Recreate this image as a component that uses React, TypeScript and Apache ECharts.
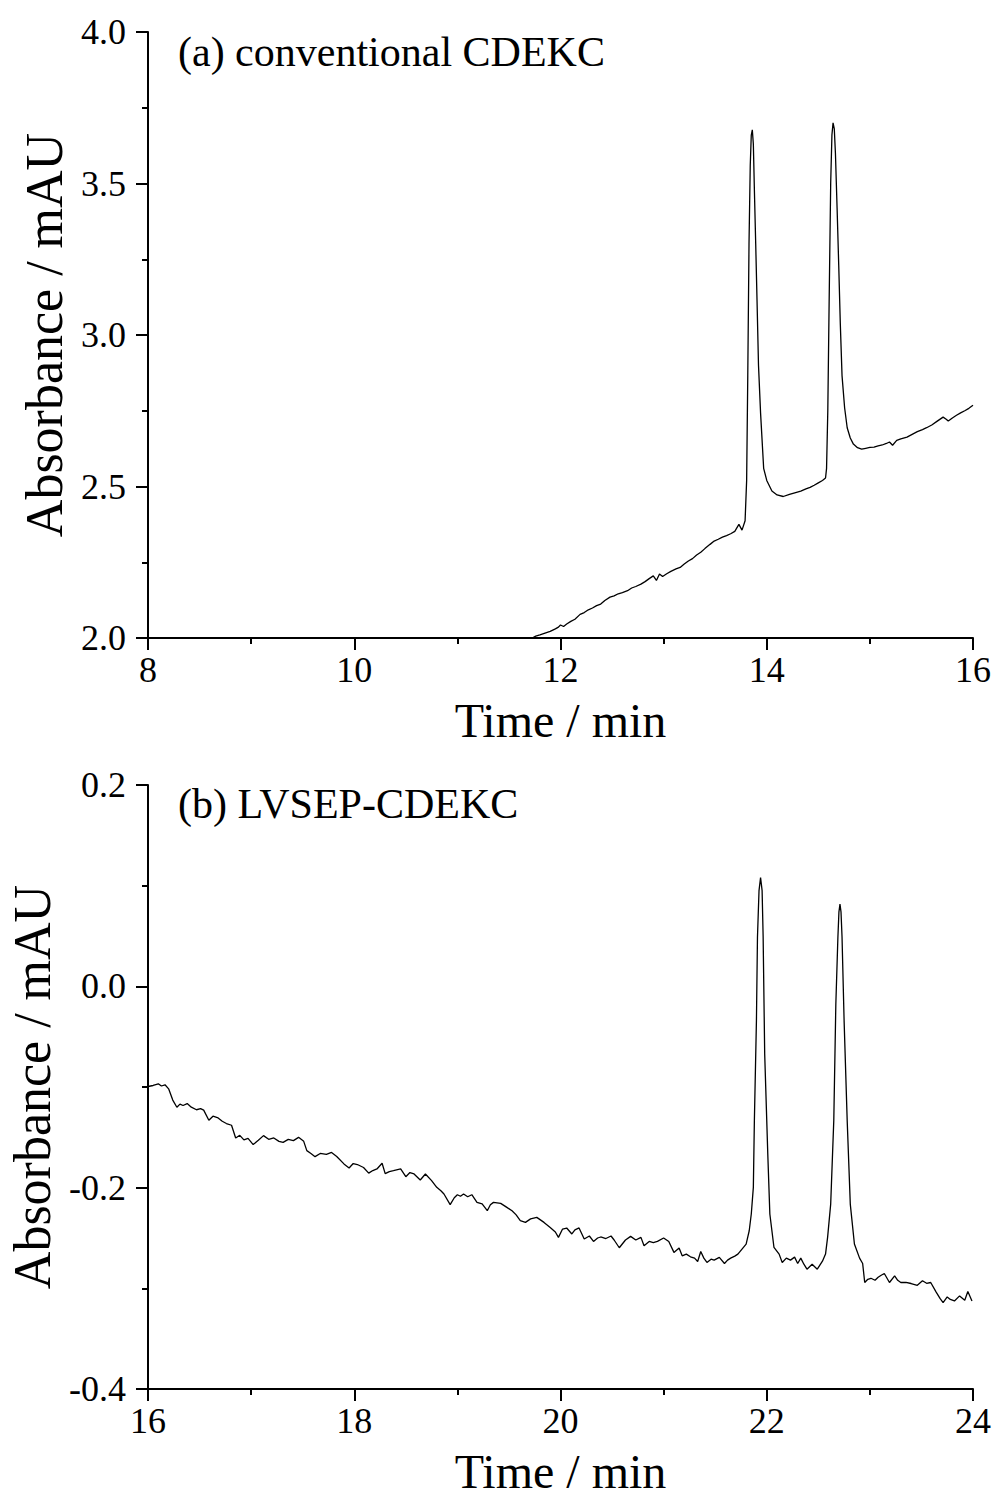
import React, { useEffect, useRef } from "react";
import * as echarts from "echarts";

// Panel (a): conventional CDEKC
const timeA: number[] = [
  11.70, 11.76, 11.80, 11.85, 11.90, 11.95, 11.98, 12.00, 12.03, 12.06,
  12.10, 12.14, 12.19, 12.23, 12.27, 12.31, 12.35, 12.39, 12.43, 12.48,
  12.52, 12.56, 12.60, 12.65, 12.69, 12.73, 12.78, 12.82, 12.86, 12.90,
  12.93, 12.96, 12.99, 13.03, 13.07, 13.12, 13.16, 13.20, 13.24, 13.28,
  13.32, 13.36, 13.40, 13.45, 13.49, 13.53, 13.57, 13.61, 13.65, 13.69,
  13.73, 13.76, 13.79, 13.805, 13.816, 13.828, 13.84, 13.85, 13.86, 13.87,
  13.88, 13.893, 13.906, 13.92, 13.94, 13.97, 14.00, 14.05, 14.10, 14.16,
  14.22, 14.28, 14.33, 14.38, 14.42, 14.46, 14.50, 14.54, 14.57, 14.58,
  14.592, 14.605, 14.62, 14.632, 14.643, 14.655, 14.666, 14.682, 14.698, 14.713,
  14.73, 14.755, 14.78, 14.81, 14.84, 14.88, 14.92, 14.96, 15.00, 15.04,
  15.08, 15.12, 15.16, 15.19, 15.22, 15.26, 15.30, 15.36, 15.41, 15.46,
  15.51, 15.55, 15.60, 15.65, 15.71, 15.74, 15.76, 15.80, 15.84, 15.88,
  15.92, 15.96, 16.00,
];
const absA: number[] = [
  1.995, 2.006, 2.010, 2.016, 2.022, 2.030, 2.036, 2.043, 2.038, 2.046,
  2.055, 2.062, 2.078, 2.084, 2.093, 2.099, 2.107, 2.112, 2.124, 2.135,
  2.139, 2.146, 2.150, 2.156, 2.165, 2.170, 2.178, 2.186, 2.196, 2.205,
  2.190, 2.211, 2.203, 2.212, 2.220, 2.228, 2.233, 2.244, 2.254, 2.262,
  2.274, 2.283, 2.295, 2.309, 2.320, 2.326, 2.333, 2.338, 2.344, 2.352,
  2.375, 2.356, 2.387, 2.520, 2.866, 3.300, 3.560, 3.660, 3.677, 3.630,
  3.480, 3.300, 3.110, 2.900, 2.743, 2.560, 2.520, 2.485, 2.472, 2.467,
  2.474, 2.480, 2.485, 2.492, 2.497, 2.504, 2.512, 2.520, 2.528, 2.560,
  2.750, 3.110, 3.500, 3.660, 3.700, 3.680, 3.600, 3.420, 3.230, 3.040,
  2.866, 2.760, 2.694, 2.660, 2.640, 2.628, 2.623, 2.626, 2.629, 2.630,
  2.634, 2.637, 2.642, 2.647, 2.636, 2.652, 2.657, 2.663, 2.672, 2.681,
  2.688, 2.694, 2.703, 2.715, 2.729, 2.722, 2.716, 2.726, 2.735, 2.743,
  2.750, 2.758, 2.768,
];

// Panel (b): LVSEP-CDEKC
const timeB: number[] = [
  16.00, 16.05, 16.10, 16.13, 16.165, 16.20, 16.24, 16.28, 16.31, 16.34,
  16.38, 16.42, 16.47, 16.51, 16.54, 16.59, 16.63, 16.68, 16.72, 16.76,
  16.81, 16.85, 16.89, 16.93, 16.97, 17.02, 17.07, 17.12, 17.17, 17.22,
  17.27, 17.31, 17.36, 17.41, 17.46, 17.51, 17.54, 17.58, 17.62, 17.67,
  17.73, 17.78, 17.83, 17.90, 17.95, 17.99, 18.03, 18.09, 18.14, 18.18,
  18.22, 18.27, 18.30, 18.34, 18.38, 18.45, 18.50, 18.54, 18.58, 18.64,
  18.69, 18.75, 18.80, 18.84, 18.87, 18.93, 18.97, 19.00, 19.03, 19.06,
  19.10, 19.14, 19.19, 19.24, 19.29, 19.32, 19.35, 19.42, 19.48, 19.53,
  19.57, 19.61, 19.66, 19.71, 19.77, 19.84, 19.90, 19.95, 19.98, 20.02,
  20.06, 20.11, 20.14, 20.18, 20.23, 20.28, 20.32, 20.36, 20.39, 20.44,
  20.49, 20.52, 20.57, 20.63, 20.68, 20.73, 20.78, 20.81, 20.86, 20.90,
  20.94, 21.00, 21.05, 21.10, 21.15, 21.18, 21.22, 21.26, 21.30, 21.33,
  21.36, 21.39, 21.42, 21.46, 21.49, 21.54, 21.59, 21.62, 21.65, 21.69,
  21.72, 21.76, 21.80, 21.83, 21.85, 21.87, 21.88, 21.90, 21.91, 21.925,
  21.94, 21.955, 21.965, 21.98, 22.01, 22.03, 22.07, 22.12, 22.15, 22.19,
  22.23, 22.27, 22.30, 22.33, 22.36, 22.39, 22.44, 22.49, 22.54, 22.57,
  22.59, 22.62, 22.65, 22.67, 22.69, 22.70, 22.71, 22.72, 22.73, 22.75,
  22.78, 22.81, 22.85, 22.90, 22.93, 22.95, 22.98, 23.01, 23.05, 23.08,
  23.11, 23.14, 23.19, 23.24, 23.27, 23.30, 23.35, 23.40, 23.46, 23.51,
  23.55, 23.59, 23.64, 23.68, 23.71, 23.75, 23.78, 23.82, 23.87, 23.92,
  23.95, 23.99,
];
const absB: number[] = [
  -0.0995, -0.0985, -0.0968, -0.0990, -0.0978, -0.1018, -0.1130, -0.1201, -0.1170, -0.1184,
  -0.1165, -0.1200, -0.1226, -0.1215, -0.1230, -0.1330, -0.1290, -0.1307, -0.1340, -0.1363,
  -0.1380, -0.1506, -0.1480, -0.1525, -0.1510, -0.1572, -0.1530, -0.1483, -0.1520, -0.1506,
  -0.1540, -0.1550, -0.1520, -0.1533, -0.1500, -0.1540, -0.1632, -0.1660, -0.1692, -0.1660,
  -0.1670, -0.1650, -0.1690, -0.1764, -0.1804, -0.1760, -0.1770, -0.1800, -0.1856, -0.1830,
  -0.1814, -0.1757, -0.1860, -0.1840, -0.1831, -0.1814, -0.1891, -0.1850, -0.1864, -0.1924,
  -0.1864, -0.1930, -0.1997, -0.2030, -0.2063, -0.2169, -0.2100, -0.2070, -0.2085, -0.2063,
  -0.2090, -0.2070, -0.2146, -0.2162, -0.2229, -0.2170, -0.2146, -0.2156, -0.2196, -0.2229,
  -0.2270, -0.2328, -0.2345, -0.2310, -0.2295, -0.2345, -0.2395, -0.2440, -0.2494, -0.2411,
  -0.2401, -0.2460, -0.2420, -0.2400, -0.2510, -0.2480, -0.2534, -0.2500, -0.2490, -0.2505,
  -0.2480, -0.2520, -0.2597, -0.2520, -0.2484, -0.2520, -0.2494, -0.2577, -0.2534, -0.2545,
  -0.2534, -0.2500, -0.2534, -0.2643, -0.2600, -0.2677, -0.2660, -0.2687, -0.2700, -0.2733,
  -0.2634, -0.2700, -0.2743, -0.2710, -0.2720, -0.2693, -0.2753, -0.2720, -0.2700, -0.2680,
  -0.2660, -0.2610, -0.2560, -0.2428, -0.2262, -0.1997, -0.1333, -0.0338, 0.0490, 0.0950,
  0.1080, 0.0950, 0.0490, -0.0670, -0.1665, -0.2262, -0.2594, -0.2660, -0.2743, -0.2700,
  -0.2720, -0.2690, -0.2753, -0.2700, -0.2760, -0.2810, -0.2760, -0.2810, -0.2730, -0.2660,
  -0.2494, -0.2163, -0.1333, -0.0172, 0.0490, 0.0740, 0.0816, 0.0740, 0.0490, -0.0338,
  -0.1333, -0.2163, -0.2560, -0.2700, -0.2753, -0.2942, -0.2910, -0.2900, -0.2920, -0.2890,
  -0.2870, -0.2853, -0.2942, -0.2876, -0.2920, -0.2942, -0.2940, -0.2952, -0.2970, -0.2925,
  -0.2950, -0.2942, -0.3032, -0.3100, -0.3141, -0.3085, -0.3110, -0.3125, -0.3075, -0.3118,
  -0.3032, -0.3125,
];

const labelA = "(a) conventional CDEKC";
const labelB = "(b) LVSEP-CDEKC";
const xTitle = "Time / min";
const yTitle = "Absorbance / mAU";

const FONT = '"Liberation Serif", "Times New Roman", serif';

function fmt1(v: number): string {
  return (Math.round(v * 10) / 10 + 0).toFixed(1);
}

function xAxisCfg(gridIndex: number, min: number, max: number) {
  return {
    type: "value" as const,
    gridIndex,
    min,
    max,
    interval: 2,
    name: xTitle,
    nameLocation: "middle" as const,
    nameGap: 58,
    nameTextStyle: { fontFamily: FONT, fontSize: 48, color: "#000" },
    axisLine: { show: true, onZero: false, lineStyle: { color: "#000", width: 2 } },
    axisTick: { show: true, inside: false, length: 12, lineStyle: { color: "#000", width: 2 } },
    minorTick: { show: true, splitNumber: 2, length: 6, lineStyle: { color: "#000", width: 2 } },
    splitLine: { show: false },
    minorSplitLine: { show: false },
    axisLabel: {
      fontFamily: FONT,
      fontSize: 36,
      color: "#000",
      margin: 14,
      showMinLabel: true,
      showMaxLabel: true,
      formatter: (v: number) => String(Math.round(v)),
    },
  };
}

function yAxisCfg(gridIndex: number, min: number, max: number, interval: number) {
  return {
    type: "value" as const,
    gridIndex,
    min,
    max,
    interval,
    name: yTitle,
    nameLocation: "middle" as const,
    nameGap: 68,
    nameTextStyle: { fontFamily: FONT, fontSize: 52, color: "#000" },
    axisLine: { show: true, onZero: false, lineStyle: { color: "#000", width: 2 } },
    axisTick: { show: true, inside: false, length: 12, lineStyle: { color: "#000", width: 2 } },
    minorTick: { show: true, splitNumber: 2, length: 6, lineStyle: { color: "#000", width: 2 } },
    splitLine: { show: false },
    minorSplitLine: { show: false },
    axisLabel: {
      fontFamily: FONT,
      fontSize: 36,
      color: "#000",
      margin: 22,
      showMinLabel: true,
      showMaxLabel: true,
      formatter: (v: number) => fmt1(v),
    },
  };
}

export default function App() {
  const ref = useRef<HTMLDivElement>(null);

  useEffect(() => {
    if (!ref.current) return;
    const chart = echarts.init(ref.current, undefined, { renderer: "svg" });
    const dataA = timeA.map((t, i) => [t, absA[i]]);
    const dataB = timeB.map((t, i) => [t, absB[i]]);
    chart.setOption({
      animation: false,
      backgroundColor: "#fff",
      grid: [
        { left: 148, top: 32, width: 825, height: 606, containLabel: false, outerBoundsMode: "none" },
        { left: 148, top: 785, width: 825, height: 604, containLabel: false, outerBoundsMode: "none" },
      ],
      xAxis: [xAxisCfg(0, 8, 16), xAxisCfg(1, 16, 24)],
      yAxis: [yAxisCfg(0, 2, 4, 0.5), yAxisCfg(1, -0.4, 0.2, 0.2)],
      series: [
        {
          type: "line",
          xAxisIndex: 0,
          yAxisIndex: 0,
          data: dataA,
          showSymbol: false,
          symbol: "none",
          clip: true,
          lineStyle: { color: "#000", width: 1.3 },
        },
        {
          type: "line",
          xAxisIndex: 1,
          yAxisIndex: 1,
          data: dataB,
          showSymbol: false,
          symbol: "none",
          clip: true,
          lineStyle: { color: "#000", width: 1.3 },
        },
      ],
      graphic: [
        {
          type: "text",
          left: 178,
          top: 31,
          style: { text: labelA, fontFamily: FONT, fontSize: 42, fill: "#000" },
        },
        {
          type: "text",
          left: 178,
          top: 783,
          style: { text: labelB, fontFamily: FONT, fontSize: 42, fill: "#000" },
        },
      ],
    });
    return () => chart.dispose();
  }, []);

  return (
    <div
      ref={ref}
      style={{ position: "absolute", left: 0, top: 0, width: 998, height: 1497, background: "#fff" }}
    />
  );
}
